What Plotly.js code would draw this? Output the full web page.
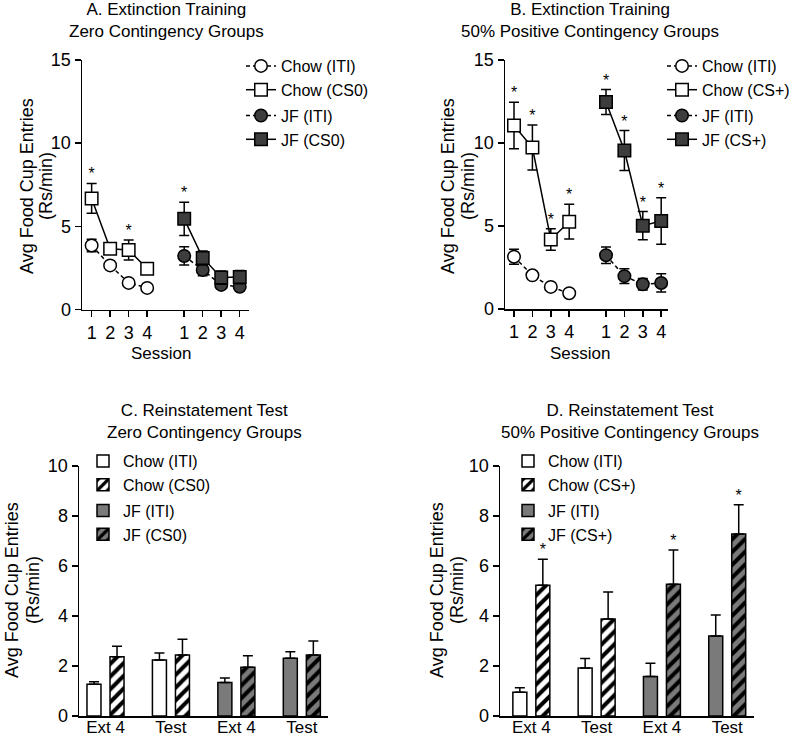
<!DOCTYPE html>
<html>
<head>
<meta charset="utf-8">
<script src="https://cdn.plot.ly/plotly-3.0.1.min.js"></script>
<style>
  html, body { margin: 0; padding: 0; background: #fff; }
  #chart { width: 800px; height: 738px; }
</style>
</head>
<body>
<div id="chart"></div>
<script>
// Średnie i SEM (wąsy)
const sessionLabels = ['1', '2', '3', '4'];

// A. Extinction, zero contingency
const aChowITI = [3.85, 2.65, 1.60, 1.30];
const aChowITIerr = [0.38, 0.25, 0.12, 0.10];
const aChowCS = [6.68, 3.65, 3.58, 2.45];
const aChowCSerr = [0.90, 0.25, 0.60, 0.30];
const aJFITI = [3.22, 2.38, 1.48, 1.37];
const aJFITIerr = [0.55, 0.35, 0.20, 0.15];
const aJFCS = [5.45, 3.10, 1.92, 1.95];
const aJFCSerr = [1.00, 0.42, 0.40, 0.40];
const aChowStars = [true, false, true, false];
const aJFStars = [true, false, false, false];

// B. Extinction, 50% positive contingency
const bChowITI = [3.15, 2.03, 1.33, 0.95];
const bChowITIerr = [0.45, 0.15, 0.12, 0.10];
const bChowCS = [11.05, 9.73, 4.19, 5.26];
const bChowCSerr = [1.40, 1.35, 0.65, 1.05];
const bJFITI = [3.24, 1.98, 1.49, 1.57];
const bJFITIerr = [0.50, 0.45, 0.35, 0.55];
const bJFCS = [12.47, 9.55, 5.02, 5.30];
const bJFCSerr = [0.75, 1.20, 0.85, 1.40];
const bChowStars = [true, true, true, true];
const bJFStars = [true, true, true, true];

// C/D. Reinstatement test (kolejność: Chow Ext 4, Chow Test | JF Ext 4, JF Test)
const testLabels = ['Ext 4', 'Test', 'Ext 4', 'Test'];
const cChowITI = [1.27, 2.24];
const cChowITIerr = [0.10, 0.28];
const cChowCS = [2.37, 2.44];
const cChowCSerr = [0.42, 0.63];
const cJFITI = [1.34, 2.31];
const cJFITIerr = [0.18, 0.26];
const cJFCS = [1.95, 2.44];
const cJFCSerr = [0.46, 0.56];

const dChowITI = [0.95, 1.92];
const dChowITIerr = [0.18, 0.38];
const dChowCS = [5.23, 3.88];
const dChowCSerr = [1.04, 1.08];
const dJFITI = [1.58, 3.20];
const dJFITIerr = [0.53, 0.84];
const dJFCS = [5.27, 7.28];
const dJFCSerr = [1.37, 1.17];
const dChowStars = [true, false];
const dJFStars = [true, true];

// ---------- style ----------
const FONT = '"Liberation Sans", Arial, Helvetica, sans-serif';
const DARK = '#3d3d3d';
const GREY = '#7a7a7a';
const W = 800, H = 738;
const px = x => x / W;
const py = y => 1 - y / H;

// sesja -> pozycja na osi; druga grupa (JF) przesunięta o 5
const sesX = (i, jf) => i + 1 + (jf ? 5 : 0);

function linia(vals, errs, jf, cs, ax, name, legend) {
  return {
    type: 'scatter', mode: 'lines+markers',
    x: vals.map((_, i) => sesX(i, jf)), y: vals,
    xaxis: 'x' + ax, yaxis: 'y' + ax,
    name, legend, legendgroup: (jf ? 'jf' : 'chow') + ax,
    line: { color: 'black', width: 1.5, dash: cs ? 'solid' : '4px,3px' },
    marker: {
      symbol: cs ? 'square' : 'circle', size: 12.5,
      color: jf ? DARK : 'white', line: { color: 'black', width: 1.5 },
    },
    error_y: { type: 'data', array: errs, color: 'black', thickness: 1.5, width: 5 },
    cliponaxis: false,
  };
}

function gwiazdki(vals, errs, flags, xOf, ax) {
  const xs = [], ys = [];
  flags.forEach((f, i) => { if (f) { xs.push(xOf(i)); ys.push(vals[i] + errs[i]); } });
  return {
    type: 'scatter', mode: 'text', x: xs, y: ys, text: xs.map(() => '*'),
    textposition: 'top center', textfont: { family: FONT, size: 16, color: 'black' },
    xaxis: 'x' + ax, yaxis: 'y' + ax, showlegend: false, hoverinfo: 'skip', cliponaxis: false,
  };
}

const BW = 0.214, OFF = 0.176;
function slupki(vals, errs, jf, cs, ax, name, legend) {
  return {
    type: 'bar', x: vals.map((_, i) => i + 1 + (jf ? 2 : 0)), y: vals,
    width: BW, offset: cs ? OFF - BW / 2 : -OFF - BW / 2,
    xaxis: 'x' + ax, yaxis: 'y' + ax, name, legend,
    legendgroup: (jf ? 'jf' : 'chow') + ax,
    marker: {
      color: jf ? GREY : 'white',
      line: { color: 'black', width: 1.5 },
      pattern: cs ? { shape: '/', fgcolor: 'black', bgcolor: jf ? GREY : 'white', size: 9, solidity: 0.45 } : { shape: '' },
    },
    error_y: {
      type: 'data', symmetric: false, array: errs, arrayminus: errs.map(() => 0),
      color: 'black', thickness: 1.5, width: 5,
    },
  };
}

const traces = [
  linia(aChowITI, aChowITIerr, false, false, '', 'Chow (ITI)', 'legend'),
  linia(aChowCS, aChowCSerr, false, true, '', 'Chow (CS0)', 'legend'),
  linia(aJFITI, aJFITIerr, true, false, '', 'JF (ITI)', 'legend'),
  linia(aJFCS, aJFCSerr, true, true, '', 'JF (CS0)', 'legend'),
  gwiazdki(aChowCS, aChowCSerr, aChowStars, i => sesX(i, false), ''),
  gwiazdki(aJFCS, aJFCSerr, aJFStars, i => sesX(i, true), ''),

  linia(bChowITI, bChowITIerr, false, false, '2', 'Chow (ITI)', 'legend2'),
  linia(bChowCS, bChowCSerr, false, true, '2', 'Chow (CS+)', 'legend2'),
  linia(bJFITI, bJFITIerr, true, false, '2', 'JF (ITI)', 'legend2'),
  linia(bJFCS, bJFCSerr, true, true, '2', 'JF (CS+)', 'legend2'),
  gwiazdki(bChowCS, bChowCSerr, bChowStars, i => sesX(i, false), '2'),
  gwiazdki(bJFCS, bJFCSerr, bJFStars, i => sesX(i, true), '2'),

  slupki(cChowITI, cChowITIerr, false, false, '3', 'Chow (ITI)', 'legend3'),
  slupki(cChowCS, cChowCSerr, false, true, '3', 'Chow (CS0)', 'legend3'),
  slupki(cJFITI, cJFITIerr, true, false, '3', 'JF (ITI)', 'legend3'),
  slupki(cJFCS, cJFCSerr, true, true, '3', 'JF (CS0)', 'legend3'),

  slupki(dChowITI, dChowITIerr, false, false, '4', 'Chow (ITI)', 'legend4'),
  slupki(dChowCS, dChowCSerr, false, true, '4', 'Chow (CS+)', 'legend4'),
  slupki(dJFITI, dJFITIerr, true, false, '4', 'JF (ITI)', 'legend4'),
  slupki(dJFCS, dJFCSerr, true, true, '4', 'JF (CS+)', 'legend4'),
  gwiazdki(dChowCS, dChowCSerr, dChowStars, i => i + 1 + OFF, '4'),
  gwiazdki(dJFCS, dJFCSerr, dJFStars, i => i + 3 + OFF, '4'),
];

const osX = (x0, x1, range, vals, text, ticks) => ({
  domain: [px(x0), px(x1)], range, fixedrange: true,
  showline: true, linecolor: 'black', linewidth: 1.5, mirror: false,
  ticks: ticks ? 'outside' : '', ticklen: 6, tickwidth: 1.5, tickcolor: 'black',
  ticklabelstandoff: ticks ? 0 : -5,
  tickmode: 'array', tickvals: vals, ticktext: text,
  showgrid: false, zeroline: false,
  tickfont: { family: FONT, size: ticks ? 18 : 17, color: 'black' },
});
const osY = (y0, y1, max, dtick, anchor) => ({
  domain: [py(y1), py(y0)], range: [0, max], dtick, anchor,
  showline: true, linecolor: 'black', linewidth: 1.5,
  ticks: 'outside', ticklen: 6, tickwidth: 1.5, tickcolor: 'black',
  showgrid: false, zeroline: false,
  tickfont: { family: FONT, size: 18, color: 'black' },
});

const sesVals = [1, 2, 3, 4, 6, 7, 8, 9];
const sesText = sessionLabels.concat(sessionLabels);

const legenda = (x, y) => ({
  x: px(x), y: py(y), xanchor: 'left', yanchor: 'top',
  bgcolor: 'rgba(0,0,0,0)', borderwidth: 0,
  traceorder: 'grouped', tracegroupgap: 2,
  font: { family: FONT, size: 16, color: 'black' },
});

const tekst = (t, x, y, size, angle) => ({
  text: t, x: px(x), y: py(y), xref: 'paper', yref: 'paper',
  showarrow: false, xanchor: 'center', yanchor: 'middle', textangle: angle || 0,
  font: { family: FONT, size, color: 'black' },
});

const annotations = [
  tekst('A. Extinction Training<br>Zero Contingency Groups', 166, 20, 17),
  tekst('B. Extinction Training<br>50% Positive Contingency Groups', 590, 20, 17),
  tekst('C. Reinstatement Test<br>Zero Contingency Groups', 205, 421, 17),
  tekst('D. Reinstatement Test<br>50% Positive Contingency Groups', 630, 421, 17),
  tekst('Session', 161, 353, 17),
  tekst('Session', 580, 353, 17),
];
// tytuły osi Y: dwie linie, ciaśniej niż domyślne <br>  [x linii 1, x linii 2, środek y]
[[27, 46, 186], [448, 468, 186], [12, 33, 590], [437, 457, 590]].forEach(([x1, x2, cy]) => {
  annotations.push(tekst('Avg Food Cup Entries', x1, cy, 18, -90));
  annotations.push(tekst('(Rs/min)', x2, cy, 18, -90));
});

const layout = {
  width: W, height: H, margin: { l: 0, r: 0, t: 0, b: 0 },
  paper_bgcolor: 'white', plot_bgcolor: 'white',
  font: { family: FONT, color: 'black' },
  barmode: 'overlay', hovermode: false,
  xaxis: { ...osX(82, 249, [0.48, 9.5], sesVals, sesText, true), anchor: 'y' },
  yaxis: osY(60, 309.5, 15, 5, 'x'),
  xaxis2: { ...osX(505, 668, [0.51, 9.37], sesVals, sesText, true), anchor: 'y2' },
  yaxis2: osY(60, 309, 15, 5, 'x2'),
  xaxis3: { ...osX(79, 328, [0.595, 4.4], [1, 2, 3, 4], testLabels, false), anchor: 'y3' },
  yaxis3: osY(466, 716, 10, 2, 'x3'),
  xaxis4: { ...osX(500, 754, [0.52, 4.41], [1, 2, 3, 4], testLabels, false), anchor: 'y4' },
  yaxis4: osY(466, 716, 10, 2, 'x4'),
  legend: legenda(241, 49),
  legend2: legenda(662, 49),
  legend3: legenda(83, 444),
  legend4: legenda(508, 444),
  annotations,
};

Plotly.newPlot('chart', traces, layout, { staticPlot: true, displayModeBar: false });
</script>
</body>
</html>
